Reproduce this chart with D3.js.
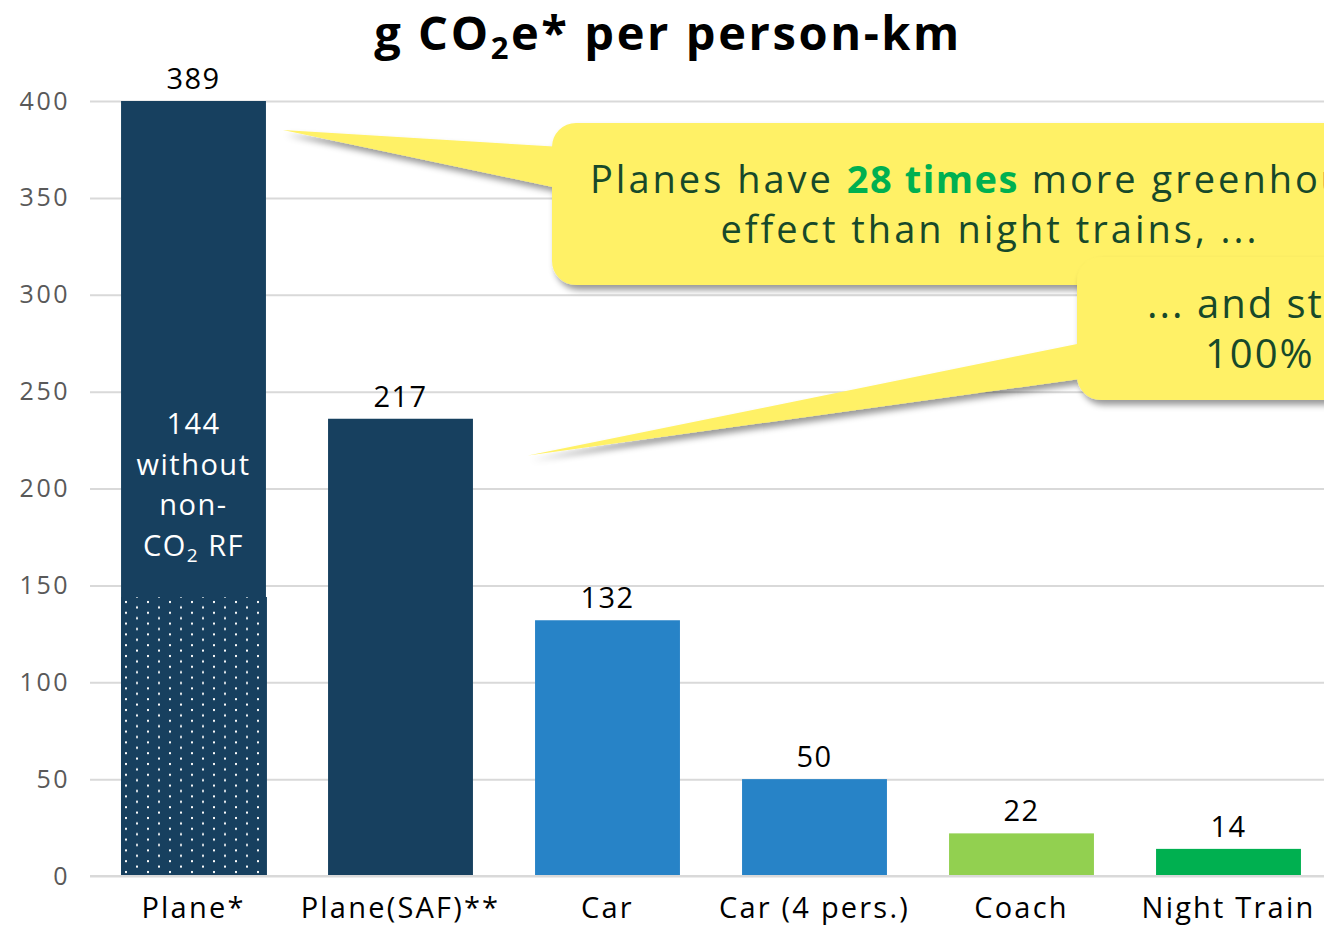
<!DOCTYPE html>
<html>
<head>
<meta charset="utf-8">
<script src="https://cdn.jsdelivr.net/npm/d3@7"></script>
<style>
  body { margin: 0; background: #fff; }
  svg { display: block; font-family: "Open Sans", Lato, sans-serif; }
</style>
</head>
<body>
<script>
// values
var categories = ["Plane*", "Plane(SAF)**", "Car", "Car (4 pers.)", "Coach", "Night Train"];
var valueLabels = [389, 217, 132, 50, 22, 14];
var barValues = [400, 236, 132, 50, 22, 14];   // drawn heights (plane capped at axis top)
var planeCO2Only = 144;
var yTicks = [0, 50, 100, 150, 200, 250, 300, 350, 400];

var width = 1324, height = 925;

var svg = d3.select("body").append("svg")
    .attr("width", width)
    .attr("height", height);

var defs = svg.append("defs");

// dotted pattern for the CO2-only part of the plane bar
var pat = defs.append("pattern")
    .attr("id", "dots")
    .attr("patternUnits", "userSpaceOnUse")
    .attr("x", 121).attr("y", 598)
    .attr("width", 22).attr("height", 10.8);
pat.append("rect").attr("width", 22).attr("height", 10.8).attr("fill", "#17405f");
pat.append("rect").attr("x", 4).attr("y", 3).attr("width", 2).attr("height", 2).attr("fill", "#fff");
pat.append("rect").attr("x", 15).attr("y", 8.4).attr("width", 2).attr("height", 2).attr("fill", "#fff");

var shadow = defs.append("filter").attr("id", "shadow")
    .attr("x", "-10%").attr("y", "-20%").attr("width", "130%").attr("height", "150%");
shadow.append("feDropShadow")
    .attr("dx", 3).attr("dy", 5).attr("stdDeviation", 3)
    .attr("flood-color", "#000").attr("flood-opacity", 0.4);

var x = d3.scaleBand()
    .domain(categories)
    .range([90, 1332])
    .paddingInner(0.3)
    .paddingOuter(0.15);

var y = d3.scaleLinear()
    .domain([0, 400])
    .range([876, 101]);

var color = d3.scaleOrdinal()
    .domain(categories)
    .range(["#17405f", "#17405f", "#2783c7", "#2783c7", "#92d050", "#00b050"]);

// gridlines + y labels
var yAxis = d3.axisLeft(y)
    .tickValues(yTicks)
    .tickSize(-(width - 90))
    .tickPadding(20);

var gy = svg.append("g")
    .attr("transform", "translate(90,0)")
    .call(yAxis);
gy.select(".domain").remove();
gy.selectAll(".tick line").attr("stroke", "#d9d9d9").attr("stroke-width", 2);
gy.selectAll(".tick text")
    .attr("fill", "#595959")
    .style("font-size", "25px")
    .style("letter-spacing", "2.5px")
    .style("font-family", "'Open Sans', sans-serif");

// bars
var bars = categories.map(function(c, i) {
  return { cat: c, label: valueLabels[i], v: barValues[i] };
});

svg.selectAll(".bar")
  .data(bars)
  .enter()
  .append("rect")
    .attr("class", "bar")
    .attr("x", d => x(d.cat))
    .attr("y", d => y(d.v))
    .attr("width", x.bandwidth())
    .attr("height", d => y(0) - y(d.v))
    .attr("fill", d => color(d.cat));

// dotted CO2-only part
svg.append("rect")
    .attr("x", x(categories[0]))
    .attr("y", y(planeCO2Only))
    .attr("width", x.bandwidth() + 1)
    .attr("height", y(0) - y(planeCO2Only))
    .attr("fill", "url(#dots)");

// baseline redrawn over bars
svg.append("line")
    .attr("x1", 90).attr("x2", width)
    .attr("y1", y(0)).attr("y2", y(0))
    .attr("stroke", "#d9d9d9").attr("stroke-width", 2);

// value labels
svg.selectAll(".val")
  .data(bars)
  .enter()
  .append("text")
    .attr("class", "val")
    .attr("x", d => x(d.cat) + x.bandwidth() / 2)
    .attr("y", d => y(d.v) - 12)
    .attr("text-anchor", "middle")
    .style("font-size", "29px")
    .style("letter-spacing", "1.5px")
    .attr("fill", "#000")
    .text(d => d.label);

// x labels
svg.selectAll(".xl")
  .data(categories)
  .enter()
  .append("text")
    .attr("class", "xl")
    .attr("x", d => x(d) + x.bandwidth() / 2)
    .attr("y", 918)
    .attr("text-anchor", "middle")
    .style("font-size", "29px")
    .style("letter-spacing", "2.2px")
    .attr("fill", "#000")
    .text(d => d);

// label inside the plane bar
var inner = svg.append("text")
    .attr("text-anchor", "middle")
    .attr("fill", "#fff")
    .style("font-size", "29px")
    .style("letter-spacing", "1.5px");
var cx0 = x(categories[0]) + x.bandwidth() / 2;
inner.append("tspan").attr("x", cx0).attr("y", 434).text(planeCO2Only);
inner.append("tspan").attr("x", cx0).attr("y", 475).text("without");
inner.append("tspan").attr("x", cx0).attr("y", 515).text("non-");
var l4 = inner.append("tspan").attr("x", cx0).attr("y", 556);
l4.text("CO");
inner.append("tspan").attr("dy", 6).style("font-size", "19px").text("2");
inner.append("tspan").attr("dy", -6).text(" RF");

// title
var title = svg.append("text")
    .attr("x", 668).attr("y", 50)
    .attr("text-anchor", "middle")
    .style("font-size", "47px")
    .style("font-weight", "bold")
    .style("letter-spacing", "2.6px")
    .attr("fill", "#000");
title.append("tspan").text("g CO");
title.append("tspan").attr("dy", 9).style("font-size", "31px").text("2");
title.append("tspan").attr("dy", -9).text("e* per person-km");

// callouts
var yellow = "#fff166";
var textGreen = "#17492a";

function callout(tip, box, tailTop, tailBot) {
  var g = svg.append("g").attr("filter", "url(#shadow)");
  g.append("path")
    .attr("d", d3.line()([tip, [box.x + 10, tailTop], [box.x + 10, tailBot]]) + "Z")
    .attr("fill", yellow);
  g.append("rect")
    .attr("x", box.x).attr("y", box.y)
    .attr("width", box.w).attr("height", box.h)
    .attr("rx", 24)
    .attr("fill", yellow);
  return g;
}

var tip1 = [x(categories[0]) + x.bandwidth() + 17, y(385)];
callout(tip1, { x: 552, y: 123, w: 900, h: 162 }, 147, 189);
var t1 = svg.append("text")
    .style("font-size", "38px")
    .style("letter-spacing", "3px")
    .attr("fill", textGreen);
t1.append("tspan").attr("x", 590).attr("y", 193).text("Planes have ");
t1.append("tspan").style("font-weight", "bold").style("letter-spacing", "1.5px").attr("fill", "#00b050").text("28 times");
t1.append("tspan").text(" more greenhouse gas");
svg.append("text")
    .attr("x", 990).attr("y", 243)
    .attr("text-anchor", "middle")
    .style("font-size", "38px")
    .style("letter-spacing", "3px")
    .attr("fill", textGreen)
    .text("effect than night trains, ...");

var tip2 = [x(categories[1]) + x.bandwidth() + 55, y(217)];
callout(tip2, { x: 1077, y: 257, w: 500, h: 143 }, 342, 378);
svg.append("text")
    .attr("x", 1147).attr("y", 318)
    .style("font-size", "40px")
    .style("letter-spacing", "2px")
    .attr("fill", textGreen)
    .text("... and still");
svg.append("text")
    .attr("x", 1205).attr("y", 368)
    .style("font-size", "40px")
    .style("letter-spacing", "2px")
    .attr("fill", textGreen)
    .text("100%");
</script>
</body>
</html>
